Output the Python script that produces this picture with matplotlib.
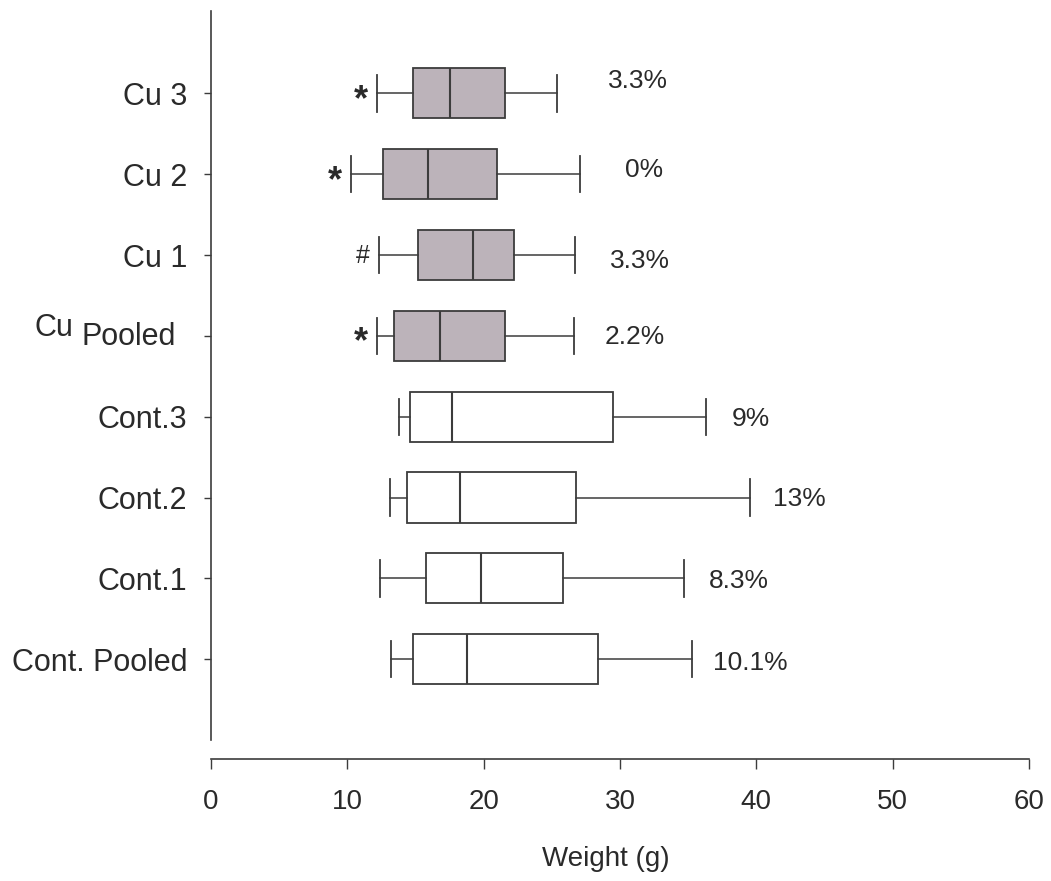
import matplotlib
matplotlib.use("Agg")
import matplotlib.pyplot as plt

# ---- data ----
categories = ["Cont. Pooled", "Cont.1", "Cont.2", "Cont.3", "CuPooled", "Cu 1", "Cu 2", "Cu 3"]
whisker_lo = [13.2, 12.4, 13.1, 13.8, 12.2, 12.35, 10.3, 12.2]
q1 = [14.8, 15.8, 14.4, 14.6, 13.4, 15.2, 12.6, 14.8]
median = [18.8, 19.8, 18.3, 17.7, 16.8, 19.2, 15.9, 17.5]
q3 = [28.4, 25.8, 26.8, 29.5, 21.6, 22.2, 21.0, 21.6]
whisker_hi = [35.3, 34.7, 39.5, 36.3, 26.6, 26.7, 27.1, 25.4]
pct_labels = ["10.1%", "8.3%", "13%", "9%", "2.2%", "3.3%", "0%", "3.3%"]
pct_label_x = [36.8, 36.5, 41.2, 38.2, 28.9, 29.3, 30.4, 29.1]
pct_label_dy = [-3, -2, -1, -2, -1, -4, 3, 9]   # vertical nudge (points)
sig_marks = ["", "", "", "", "*", "#", "*", "*"]
is_cu = [False, False, False, False, True, True, True, True]
xticks = [0, 10, 20, 30, 40, 50, 60]

TXT = "#2a2a2a"
EDGE = "#3c3c3c"
CU_FILL = "#bcb3ba"

plt.rcParams["font.family"] = ["Liberation Sans", "DejaVu Sans"]

fig = plt.figure(figsize=(10.51, 8.81), dpi=100)
fig.patch.set_facecolor("white")
ax = fig.add_axes([211 / 1051, 1 - 740 / 881, (1029 - 211) / 1051, (740 - 11) / 881])

for s in ["top", "right"]:
    ax.spines[s].set_visible(False)
ax.spines["bottom"].set_position(("outward", 14))
for s in ["left", "bottom"]:
    ax.spines[s].set_color(EDGE)
    ax.spines[s].set_linewidth(1.2)

positions = list(range(1, len(categories) + 1))
stats = []
for i, name in enumerate(categories):
    stats.append(dict(label=name, whislo=whisker_lo[i], q1=q1[i], med=median[i],
                      q3=q3[i], whishi=whisker_hi[i], fliers=[]))

bp = ax.bxp(stats, positions=positions, vert=False, widths=0.62, capwidths=0.45,
            patch_artist=True, showfliers=False,
            boxprops=dict(edgecolor=EDGE, linewidth=1.3),
            medianprops=dict(color=EDGE, linewidth=1.5),
            whiskerprops=dict(color=EDGE, linewidth=1.1),
            capprops=dict(color=EDGE, linewidth=1.3))
for patch, cu in zip(bp["boxes"], is_cu):
    patch.set_facecolor(CU_FILL if cu else "white")

# percentage labels
for i, lab in enumerate(pct_labels):
    ax.annotate(lab, xy=(pct_label_x[i], positions[i]), xytext=(0, pct_label_dy[i]),
                textcoords="offset points", ha="left", va="center",
                fontsize=19, color=TXT)

# significance marks
for i, m in enumerate(sig_marks):
    if m:
        dy = -5 if m == "*" else -1
        fs = 26 if m == "*" else 18
        ax.annotate(m, xy=(whisker_lo[i] - 0.7, positions[i]), xytext=(0, dy),
                    textcoords="offset points", ha="right", va="center",
                    fontsize=fs, color=TXT, fontweight="bold" if m == "*" else "normal")

ax.set_xlim(0, 60)
ax.set_ylim(0.0, 9.02)
ax.set_xticks(xticks)
ax.set_xticklabels([str(t) for t in xticks])
ax.set_yticks(positions)
ylabels = [c if c != "CuPooled" else "" for c in categories]
ax.set_yticklabels(ylabels)

ax.tick_params(axis="y", direction="out", length=5, width=1, color=EDGE, pad=12,
               labelsize=22, labelcolor=TXT)
ax.tick_params(axis="x", direction="out", length=7, width=1, color=EDGE, pad=14,
               labelsize=20, labelcolor=TXT)

# special two-part label "Cu Pooled"
idx = categories.index("CuPooled")
ax.annotate("Cu", xy=(0, positions[idx]), xycoords=("axes fraction", "data"),
            xytext=(-99, 6), textcoords="offset points", ha="right", va="center",
            fontsize=22, color=TXT)
ax.annotate("Pooled", xy=(0, positions[idx]), xycoords=("axes fraction", "data"),
            xytext=(-25, -1), textcoords="offset points", ha="right", va="center",
            fontsize=22, color=TXT)

ax.set_xlabel("Weight (g)", fontsize=20, color=TXT)
ax.xaxis.set_label_coords(0.483, -0.145)

fig.savefig("out.png", dpi=100, facecolor="white")
